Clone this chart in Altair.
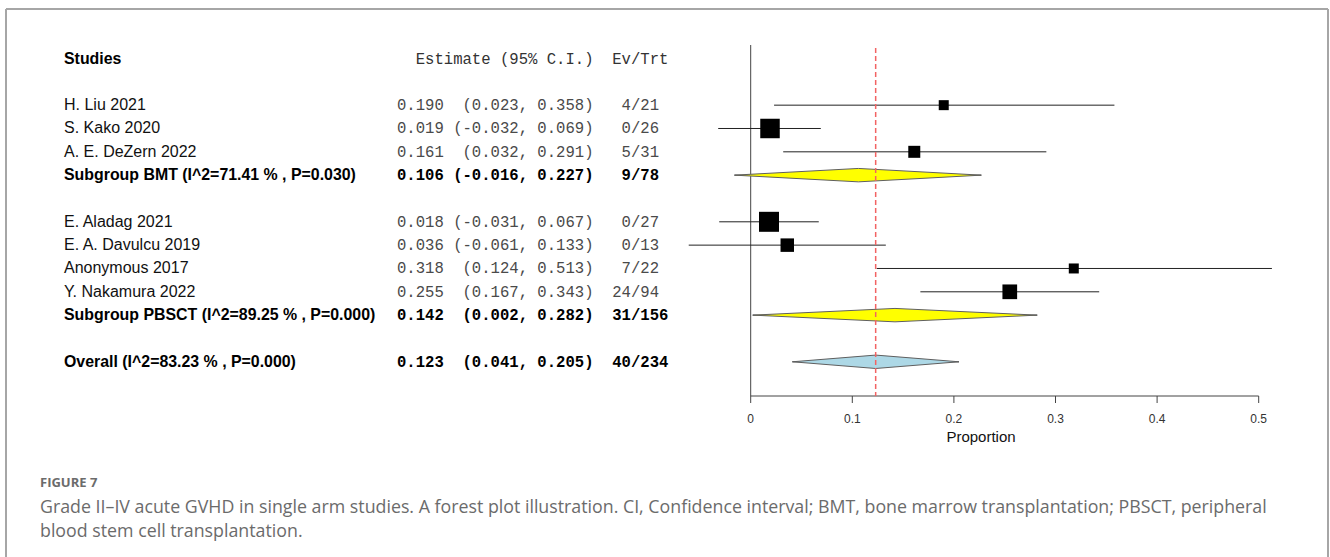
import altair as alt
import pandas as pd

# ---------------- data ----------------
groups = ["BMT", "PBSCT"]
studies = ["H. Liu 2021", "S. Kako 2020", "A. E. DeZern 2022",
           "E. Aladag 2021", "E. A. Davulcu 2019", "Anonymous 2017", "Y. Nakamura 2022"]
study_group = ["BMT", "BMT", "BMT", "PBSCT", "PBSCT", "PBSCT", "PBSCT"]
study_est = [0.190, 0.019, 0.161, 0.018, 0.036, 0.318, 0.255]
study_lo = [0.023, -0.032, 0.032, -0.031, -0.061, 0.124, 0.167]
study_hi = [0.358, 0.069, 0.291, 0.067, 0.133, 0.513, 0.343]
study_events = [4, 0, 5, 0, 0, 7, 24]
study_totals = [21, 26, 31, 27, 13, 22, 94]
study_weight = [5.0, 19.0, 7.2, 20.0, 9.1, 5.0, 10.8]   # relative box weight

summary_labels = ["Subgroup BMT (I^2=71.41 % , P=0.030)",
                  "Subgroup PBSCT (I^2=89.25 % , P=0.000)",
                  "Overall (I^2=83.23 % , P=0.000)"]
summary_kind = ["BMT", "PBSCT", "Overall"]
summary_est = [0.106, 0.142, 0.123]
summary_lo = [-0.016, 0.002, 0.041]
summary_hi = [0.227, 0.282, 0.205]
summary_events = [9, 31, 40]
summary_totals = [78, 156, 234]

x_ticks = [0.0, 0.1, 0.2, 0.3, 0.4, 0.5]
tick_labels = ["0", "0.1", "0.2", "0.3", "0.4", "0.5"]

header_label = "Studies"
header_mono = "Estimate (95% C.I.)  Ev/Trt"
x_title = "Proportion"
fig_label = "FIGURE 7"
caption_lines = [
    "Grade II\u2013IV acute GVHD in single arm studies. A forest plot illustration. CI, Confidence interval; BMT, bone marrow transplantation; PBSCT, peripheral",
    "blood stem cell transplantation.",
]

# ---------------- layout constants ----------------
W, H = 1330, 557
X0_PX, PX_PER_UNIT = 750.7, 1016.0
Y0_PX, ROW_PX = 58.5, 23.33
NAME_X, MONO_X = 64, 397
FS_REG, FS_BOLD = 16.0, 15.9
MONO_FS = 15.6
CHAR_W = MONO_FS * 0.6
NBSP = "\u00a0"


def mono_text(est, lo, hi, ev, tot):
    ci = f"({lo:.3f}, {hi:.3f})"
    s = f"{est:.3f} {ci:>15}  {f'{ev}/{tot}':^6}"
    return s.replace(" ", NBSP)


text_rows = []
study_rows, summary_rows = [], []
r = 2
for g in groups:
    for j in range(len(studies)):
        if study_group[j] != g:
            continue
        study_rows.append(dict(row=r, est=study_est[j], lo=study_lo[j], hi=study_hi[j], w=study_weight[j]))
        text_rows.append(dict(row=r, label=studies[j],
                              mono=mono_text(study_est[j], study_lo[j], study_hi[j], study_events[j], study_totals[j]),
                              bold=False))
        r += 1
    summary_rows.append(dict(row=r, i=groups.index(g)))
    r += 2
summary_rows.append(dict(row=r, i=2))
for sr in summary_rows:
    i = sr["i"]
    sr.update(est=summary_est[i], lo=summary_lo[i], hi=summary_hi[i], kind=summary_kind[i])
    text_rows.append(dict(row=sr["row"], label=summary_labels[i],
                          mono=mono_text(summary_est[i], summary_lo[i], summary_hi[i], summary_events[i], summary_totals[i]),
                          bold=True))

text_df = pd.DataFrame(text_rows)
study_df = pd.DataFrame(study_rows)
summ_df = pd.DataFrame(summary_rows)
head_df = pd.DataFrame({"row": [0], "label": [header_label], "mono": [header_mono.replace(" ", NBSP)]})

half_h = 6.7 / ROW_PX
dia = []
for sr in summary_rows:
    dia += [dict(x=sr["lo"], y=sr["row"], y2=sr["row"], grp=sr["kind"]),
            dict(x=sr["est"], y=sr["row"] - half_h, y2=sr["row"] + half_h, grp=sr["kind"]),
            dict(x=sr["hi"], y=sr["row"], y2=sr["row"], grp=sr["kind"])]
dia_df = pd.DataFrame(dia)

ref_df = pd.DataFrame({"x": [0.0], "overall": [summary_est[2]], "xmax": [x_ticks[-1]]})
tick_df = pd.DataFrame({"x": x_ticks, "label": tick_labels})
one = pd.DataFrame({"a": [0]})
cap_df = pd.DataFrame({"t": caption_lines, "k": list(range(len(caption_lines)))})

x_scale = alt.Scale(domain=[-X0_PX / PX_PER_UNIT, (W - X0_PX) / PX_PER_UNIT], nice=False, zero=False)
y_scale = alt.Scale(domain=[-Y0_PX / ROW_PX, (H - Y0_PX) / ROW_PX], nice=False, zero=False, reverse=True)
X = lambda f: alt.X(f, scale=x_scale, axis=None)
Y = lambda f: alt.Y(f, scale=y_scale, axis=None)

frame_col = "#a6a6a6"
frame = [
    alt.Chart(one).mark_rule(color=frame_col, strokeWidth=2).encode(x=alt.value(6), y=alt.value(9), y2=alt.value(H)),
    alt.Chart(one).mark_rule(color=frame_col, strokeWidth=2).encode(x=alt.value(6), x2=alt.value(1328), y=alt.value(9)),
    alt.Chart(one).mark_rule(color=frame_col, strokeWidth=2).encode(x=alt.value(1328), y=alt.value(9), y2=alt.value(H)),
]

vline = alt.Chart(ref_df).mark_rule(color="#444", strokeWidth=1).encode(
    x=X("x:Q"), y=alt.value(45), y2=alt.value(396))
redline = alt.Chart(ref_df).mark_rule(color="#f26363", strokeWidth=1.5, strokeDash=[5, 3]).encode(
    x=X("overall:Q"), y=alt.value(48), y2=alt.value(396))
axis_line = alt.Chart(ref_df).mark_rule(color="#444", strokeWidth=1).encode(
    x=X("x:Q"), x2="xmax:Q", y=alt.value(396))
ticks = alt.Chart(tick_df).mark_rule(color="#444", strokeWidth=1).encode(
    x=X("x:Q"), y=alt.value(396), y2=alt.value(403))
tick_text = alt.Chart(tick_df).mark_text(font="Liberation Sans", fontSize=12, color="#333", baseline="middle").encode(
    x=X("x:Q"), y=alt.value(419), text="label:N")
title_text = alt.Chart(one).mark_text(font="Liberation Sans", fontSize=15, color="#111", baseline="middle",
                                      text=x_title).encode(x=alt.value(981), y=alt.value(437))

ci_lines = alt.Chart(study_df).mark_rule(color="#222", strokeWidth=1).encode(
    x=X("lo:Q"), x2="hi:Q", y=Y("row:Q"))
squares = alt.Chart(study_df).mark_square(color="black", opacity=1, filled=True).encode(
    x=X("est:Q"), y=Y("row:Q"),
    size=alt.Size("w:Q", scale=alt.Scale(domain=[0, 20], range=[0, 400], zero=True), legend=None))
summ_lines = alt.Chart(summ_df).mark_rule(color="#666", strokeWidth=1).encode(
    x=X("lo:Q"), x2="hi:Q", y=Y("row:Q"))
diamonds = alt.Chart(dia_df).mark_area(orient="vertical", stroke="#5f5f5f", strokeWidth=1, opacity=1).encode(
    x=X("x:Q"), y=Y("y:Q"), y2="y2:Q", detail="grp:N",
    color=alt.Color("grp:N", scale=alt.Scale(domain=["BMT", "PBSCT", "Overall"],
                                             range=["#ffff00", "#ffff00", "#add8e6"]), legend=None))

head_name = alt.Chart(head_df).mark_text(
    font="Liberation Sans", fontSize=FS_BOLD, fontWeight="bold", color="#000", align="left", baseline="middle").encode(
    x=alt.value(NAME_X), y=Y("row:Q"), text="label:N")
head_mono = alt.Chart(head_df).mark_text(
    font="Liberation Mono", fontSize=MONO_FS, color="#333", align="left", baseline="middle").encode(
    x=alt.value(MONO_X + 2 * CHAR_W), y=Y("row:Q"), text="mono:N")
names_reg = alt.Chart(text_df).transform_filter("!datum.bold").mark_text(
    font="Liberation Sans", fontSize=FS_REG, color="#111", align="left", baseline="middle").encode(
    x=alt.value(NAME_X), y=Y("row:Q"), text="label:N")
names_bold = alt.Chart(text_df).transform_filter("datum.bold").mark_text(
    font="Liberation Sans", fontSize=FS_BOLD, fontWeight="bold", color="#000", align="left", baseline="middle").encode(
    x=alt.value(NAME_X), y=Y("row:Q"), text="label:N")
mono_reg = alt.Chart(text_df).transform_filter("!datum.bold").mark_text(
    font="Liberation Mono", fontSize=MONO_FS, color="#4a4a4a", align="left", baseline="middle").encode(
    x=alt.value(MONO_X), y=Y("row:Q"), text="mono:N")
mono_bold = alt.Chart(text_df).transform_filter("datum.bold").mark_text(
    font="Liberation Mono", fontSize=MONO_FS, fontWeight="bold", color="#000", align="left", baseline="middle").encode(
    x=alt.value(MONO_X), y=Y("row:Q"), text="mono:N")

fig_text = alt.Chart(one).mark_text(font="Open Sans", fontSize=13, fontWeight="bold", color="#6b6b6b",
                                    align="left", baseline="middle", text=fig_label).encode(
    x=alt.value(40), y=alt.value(483))
cap_text = alt.Chart(cap_df).mark_text(font="Open Sans", fontSize=17.8, color="#6b6b6b",
                                       align="left", baseline="middle").encode(
    x=alt.value(40), y=alt.Y("k:Q", scale=alt.Scale(domain=[0, 1], range=[508, 532]), axis=None), text="t:N")

chart = alt.layer(
    *frame, vline, axis_line, ticks, tick_text, title_text,
    ci_lines, summ_lines, diamonds, redline, squares,
    head_name, head_mono, names_reg, names_bold, mono_reg, mono_bold, fig_text, cap_text,
).resolve_scale(y="independent").properties(
    width=W, height=H, padding=0, autosize=alt.AutoSizeParams(type="none"), background="white"
).configure_view(stroke=None)

chart.save("out.html", embed_options={"renderer": "svg", "actions": False})
